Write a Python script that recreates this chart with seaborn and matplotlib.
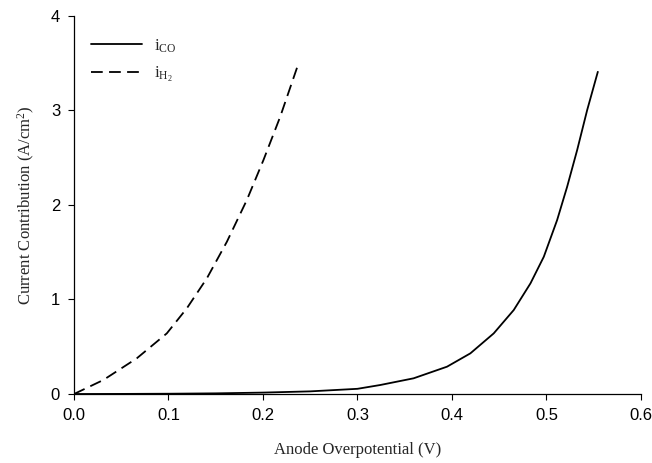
import matplotlib
matplotlib.use("Agg")
import matplotlib.pyplot as plt
import seaborn as sns
import pandas as pd

# Data
x_co = [0.0, 0.05, 0.10, 0.15, 0.20, 0.25, 0.30, 0.324, 0.3594, 0.3948, 0.4195, 0.4442,
        0.4654, 0.4831, 0.4972, 0.5113, 0.5219, 0.5325, 0.5431, 0.5544]
y_co = [0.0, 0.001, 0.003, 0.007, 0.015, 0.028, 0.055, 0.095, 0.166, 0.289, 0.430, 0.641,
        0.888, 1.170, 1.451, 1.839, 2.191, 2.579, 3.002, 3.407]

x_h2 = [0.0, 0.031, 0.0664, 0.0982, 0.1194, 0.1406, 0.1618, 0.1829, 0.2005, 0.2182, 0.2366]
y_h2 = [0.0, 0.148, 0.377, 0.641, 0.906, 1.223, 1.610, 2.051, 2.474, 2.931, 3.467]

label_co = r"$\mathrm{i}_{\mathrm{CO}}$"
label_h2 = r"$\mathrm{i}_{\mathrm{H}_2}$"
x_ticks = [0.0, 0.1, 0.2, 0.3, 0.4, 0.5, 0.6]
y_ticks = [0, 1, 2, 3, 4]

sns.set_style("ticks")
plt.rcParams["mathtext.fontset"] = "custom"
plt.rcParams["mathtext.rm"] = "Liberation Serif"
plt.rcParams["mathtext.it"] = "Liberation Serif:italic"
plt.rcParams["font.family"] = ["Liberation Sans", "DejaVu Sans"]

df_co = pd.DataFrame({"x": x_co, "y": y_co})
df_h2 = pd.DataFrame({"x": x_h2, "y": y_h2})

fig = plt.figure(figsize=(6.52, 4.63), dpi=100)
ax = fig.add_axes([0.1135, 0.149, 0.8695, 0.817])

sns.lineplot(data=df_co, x="x", y="y", ax=ax, color="black", linewidth=1.3,
             label=label_co, sort=False)
sns.lineplot(data=df_h2, x="x", y="y", ax=ax, color="black", linewidth=1.3,
             label=label_h2, sort=False, linestyle=(0, (6.5, 3.5)))

ax.set_xlim(0, 0.6)
ax.set_ylim(0, 4)
ax.set_xticks(x_ticks)
ax.set_xticklabels([f"{v:.1f}" for v in x_ticks])
ax.set_yticks(y_ticks)
ax.set_yticklabels([str(v) for v in y_ticks])
ax.tick_params(direction="out", length=4, width=0.8, labelsize=12, colors="black", pad=6)

for s in ["top", "right"]:
    ax.spines[s].set_visible(False)
for s in ["left", "bottom"]:
    ax.spines[s].set_linewidth(0.9)
    ax.spines[s].set_color("black")

ax.set_xlabel("Anode Overpotential (V)", fontfamily="Liberation Serif", fontsize=12, labelpad=14)
ax.set_ylabel(r"Current Contribution (A/cm$^2$)", fontfamily="Liberation Serif", fontsize=12, labelpad=10)

leg = ax.legend(loc="upper left", frameon=False, fontsize=12, handlelength=3.1,
                bbox_to_anchor=(0.003, 0.983), labelspacing=0.6, handletextpad=0.7)

fig.savefig("out.png", dpi=100)
